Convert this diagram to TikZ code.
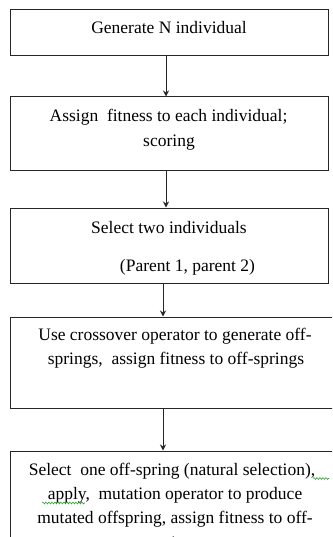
\documentclass[tikz,border=0pt]{standalone}
\usepackage{fontspec}
\setmainfont{Liberation Serif}
\usetikzlibrary{arrows.meta,decorations.pathmorphing}
\begin{document}
\begin{tikzpicture}[x=1pt,y=-1pt,
  box/.style={draw=black!85,line width=1pt,rectangle,inner sep=0pt},
  txt/.style={anchor=base,inner sep=0pt,font=\fontsize{17.5}{24.5}\selectfont},
  arr/.style={draw=black!85,line width=1pt,-{Stealth[length=6pt,width=6pt]}},
  squig/.style={draw=green!55!black!80,line width=0.6pt,decorate,decoration={snake,segment length=3pt,amplitude=0.9pt}}]
\useasboundingbox (0,0) rectangle (332,537);
\clip (0,0) rectangle (332,537);
\fill[white] (0,0) rectangle (332,537);
% boxes
\node[box,minimum width=318pt,minimum height=46pt] (b1) at (169,33) {};
\node[box,minimum width=318pt,minimum height=74pt] (b2) at (169,134) {};
\node[box,minimum width=318pt,minimum height=75pt] (b3) at (169,245.5) {};
\node[box,minimum width=335pt,minimum height=91pt] (b4) at (177.5,362.5) {};
\node[box,minimum width=335pt,minimum height=150pt] (b5) at (177.5,526) {};
% texts
\node[txt] (t1) at (169,34) {Generate N individual};
\node[txt] (t2a) at (168.5,121.5) {Assign\ \ fitness to each individual;};
\node[txt] (t2b) at (169,146.5) {scoring};
\node[txt] (t3a) at (169,233.3) {Select two individuals};
\node[txt] (t3b) at (187.5,271.7) {(Parent 1, parent 2)};
\node[txt] (t4a) at (175,340) {Use crossover operator to generate off-};
\node[txt] (t4b) at (176,364.5) {springs,\ \ assign fitness to off-springs};
\node[txt] (t5a) at (172,475) {Select\ \ one off-spring (natural selection),};
\node[txt] (t5b) at (175,499.5) {apply,\ \ mutation operator to produce};
\node[txt] (t5c) at (175,523.5) {mutated offspring, assign fitness to off-};
\node[txt] (t5d) at (175,548) {springs};
% arrows
\coordinate (x1) at (166,0);
\coordinate (x2) at (163,0);
\draw[arr] (b1.south -| x1) -- (b2.north -| x1);
\draw[arr] (b2.south -| x1) -- (b3.north -| x1);
\draw[arr] (b3.south -| x2) -- (b4.north -| x2);
\draw[arr] (b4.south -| x2) -- (b5.north -| x2);
% spell-check squiggles
\coordinate (s1a) at (313,478.5);
\coordinate (s1b) at (329,478.5);
\coordinate (s2a) at (42,503);
\coordinate (s2b) at (85,503);
\draw[squig] (s1a) -- (s1b);
\draw[squig] (s2a) -- (s2b);
\end{tikzpicture}
\end{document}
